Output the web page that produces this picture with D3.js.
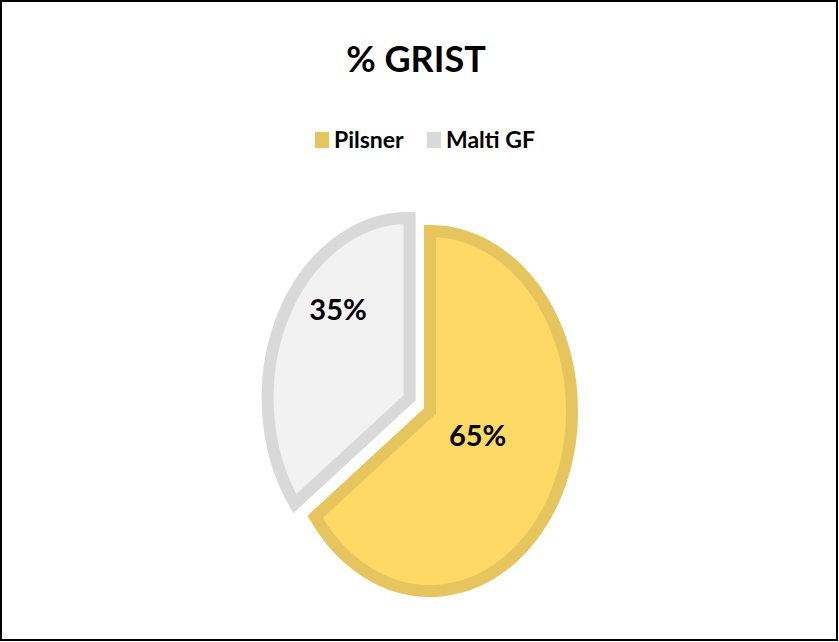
<!DOCTYPE html>
<html>
<head>
<meta charset="utf-8">
<script src="https://cdn.jsdelivr.net/npm/d3@7"></script>
<style>
  html, body { margin: 0; padding: 0; background: #fff; }
  svg { display: block; }
  text { font-family: Lato, "Open Sans", sans-serif; font-weight: bold; fill: #000; }
</style>
</head>
<body>
<svg id="chart" width="839" height="642"></svg>
<script>
// chart data
var categories = ["Pilsner", "Malti GF"];
var shares = [65, 35];
var labels = ["65%", "35%"];
var title = "% GRIST";

var fills = ["#FFD966", "#F2F2F2"];
var strokes = ["#E6C55E", "#D9D9D9"];

var svg = d3.select("#chart");
var W = +svg.attr("width"), H = +svg.attr("height");

// frame
svg.append("rect")
    .attr("x", 1).attr("y", 1)
    .attr("width", W - 3).attr("height", H - 3)
    .attr("fill", "#fff")
    .attr("stroke", "#000")
    .attr("stroke-width", 2);

// title
svg.append("text")
    .attr("x", 416).attr("y", 72)
    .attr("text-anchor", "middle")
    .attr("font-size", 36)
    .text(title);

// legend
var legend = svg.append("g").attr("transform", "translate(315,148)");
var legX = [0, 112];
categories.forEach(function (c, i) {
    var g = legend.append("g").attr("transform", "translate(" + legX[i] + ",0)");
    g.append("rect")
        .attr("x", 0).attr("y", -16)
        .attr("width", 14).attr("height", 16)
        .attr("fill", strokes[i]);
    g.append("text")
        .attr("x", 19).attr("y", 0)
        .attr("font-size", 23)
        .text(c);
});

// pie (drawn as a circle, squeezed horizontally)
var cx = 430, cy = 411;
var R = 180;          // vertical radius (stroke centre)
var sx = 142 / 180;   // horizontal squeeze
var explode = 29;     // Malti slice pulled out

var pie = d3.pie().sort(null).value(function (d) { return d; });
var arcs = pie(shares);
var arc = d3.arc().innerRadius(0).outerRadius(R);
var labelArc = d3.arc().innerRadius(R * 0.55).outerRadius(R * 0.55);

var slices = svg.append("g").attr("transform", "translate(" + cx + "," + cy + ")");

arcs.forEach(function (a, i) {
    var mid = (a.startAngle + a.endAngle) / 2;
    var off = i === 1 ? explode : 0;
    var ox = Math.sin(mid) * off * sx, oy = -Math.cos(mid) * off;
    var g = slices.append("g").attr("transform", "translate(" + ox + "," + oy + ")");
    g.append("path")
        .attr("d", arc(a))
        .attr("transform", "scale(" + sx + ",1)")
        .attr("fill", fills[i])
        .attr("stroke", strokes[i])
        .attr("stroke-width", 12)
        .attr("stroke-linejoin", "miter")
        .attr("vector-effect", "non-scaling-stroke");

    var c = labelArc.centroid(a);
    // Excel best-fit placement nudges
    var nudge = i === 0 ? [-22, -21] : [-2, -44];
    g.append("text")
        .attr("x", c[0] * sx + nudge[0])
        .attr("y", c[1] + nudge[1])
        .attr("text-anchor", "middle")
        .attr("dominant-baseline", "central")
        .attr("font-size", 29)
        .text(labels[i]);
});
</script>
</body>
</html>
